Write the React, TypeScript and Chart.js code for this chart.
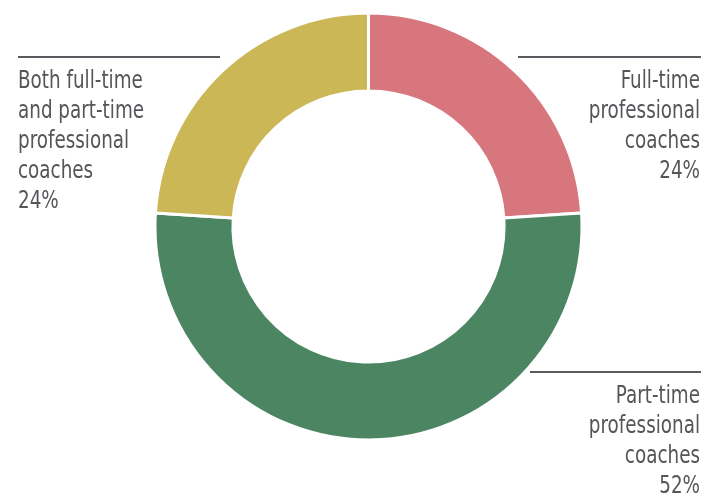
import React, { useEffect, useRef } from "react";
import { Chart, registerables } from "chart.js";

Chart.register(...registerables);

const categories = [
  "Full-time professional coaches",
  "Part-time professional coaches",
  "Both full-time and part-time professional coaches",
];
const shares = [24, 52, 24];
const sliceColors = ["#D7767D", "#4C8562", "#CCB757"];

const labelLinesText = [
  ["Full-time", "professional", "coaches", "24%"],
  ["Part-time", "professional", "coaches", "52%"],
  ["Both full-time", "and part-time", "professional", "coaches", "24%"],
];

const FONT = '24px "DejaVu Sans Condensed", "DejaVu Sans", sans-serif';
const TEXT_COLOR = "#55555A";
const RULE_COLOR = "#5A5B60";
const SQUEEZE = 0.85;

const annotations = [
  { lines: labelLinesText[0], x: 700, y: 88, align: "right" as CanvasTextAlign, rule: [518, 701, 57] },
  { lines: labelLinesText[1], x: 700, y: 403, align: "right" as CanvasTextAlign, rule: [530, 701, 372] },
  { lines: labelLinesText[2], x: 18, y: 88, align: "left" as CanvasTextAlign, rule: [18, 220, 57] },
];

const labelPlugin = {
  id: "calloutLabels",
  afterDraw(chart: Chart) {
    const ctx = chart.ctx;
    ctx.save();
    ctx.font = FONT;
    ctx.fillStyle = TEXT_COLOR;
    ctx.textBaseline = "alphabetic";
    annotations.forEach((a) => {
      ctx.strokeStyle = RULE_COLOR;
      ctx.lineWidth = 2;
      ctx.beginPath();
      ctx.moveTo(a.rule[0], a.rule[2]);
      ctx.lineTo(a.rule[1], a.rule[2]);
      ctx.stroke();
      ctx.textAlign = a.align;
      a.lines.forEach((t, i) => {
        ctx.save();
        ctx.translate(a.x, a.y + i * 30);
        ctx.scale(SQUEEZE, 1);
        ctx.fillText(t, 0, 0);
        ctx.restore();
      });
    });
    ctx.restore();
  },
};

export default function App() {
  const ref = useRef<HTMLCanvasElement>(null);
  useEffect(() => {
    if (!ref.current) return;
    const chart = new Chart(ref.current, {
      type: "doughnut",
      data: {
        labels: categories,
        datasets: [
          {
            data: shares,
            backgroundColor: sliceColors,
            borderColor: "#FFFFFF",
            borderWidth: 3,
            hoverOffset: 0,
          },
        ],
      },
      options: {
        animation: false,
        responsive: false,
        cutout: "63.5%",
        layout: { padding: { left: 153.5, right: 128.5, top: 10.5, bottom: 55.5 } },
        plugins: { legend: { display: false }, tooltip: { enabled: false } },
      },
      plugins: [labelPlugin],
    });
    return () => chart.destroy();
  }, []);
  return (
    <div style={{ position: "fixed", left: 0, top: 0, width: 712, height: 498, background: "#fff" }}>
      <canvas ref={ref} width={712} height={498} style={{ width: 712, height: 498 }} />
    </div>
  );
}
